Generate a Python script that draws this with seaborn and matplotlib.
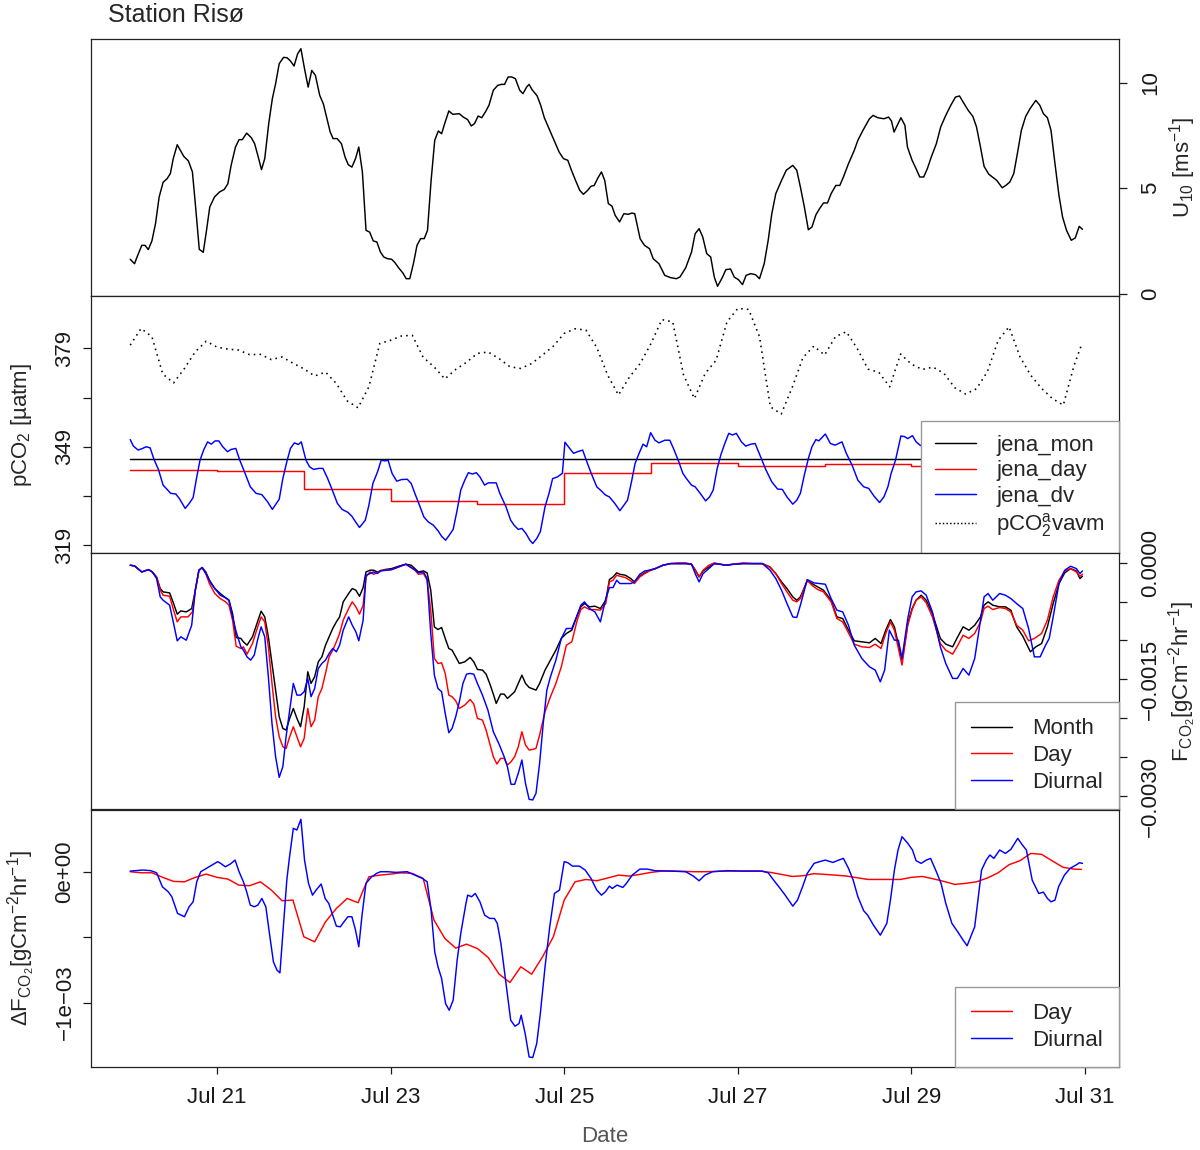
import numpy as np
import pandas as pd
import seaborn as sns
import matplotlib.pyplot as plt
import matplotlib.dates as mdates
from matplotlib.ticker import FixedLocator, FixedFormatter
from matplotlib.lines import Line2D

# hours after Jul 20 00:00, read every 3 hours
hours = list(range(0, 262, 3)) + [263]

# wind speed, read at the line's vertices: (hour, m/s)
u10_pts = [
    (0.0, 1.63), (1.2, 1.42), (1.9, 1.74), (3.2, 2.29), (4.1, 2.29), (5.0, 2.09), (6.0, 2.50), (7.0, 3.32),
    (8.0, 4.58), (9.1, 5.28), (10.2, 5.45), (11.1, 5.69), (11.9, 6.40), (13.0, 7.06), (14.0, 6.76),
    (14.8, 6.51), (16.1, 6.29), (17.2, 5.77), (18.0, 4.27), (19.1, 2.10), (20.2, 1.96), (21.1, 3.00),
    (22.0, 4.11), (23.3, 4.58), (24.7, 4.82), (26.0, 4.94), (27.0, 5.21), (27.9, 6.08), (29.1, 6.95),
    (30.1, 7.30), (31.0, 7.30), (32.2, 7.61), (33.5, 7.39), (34.4, 7.11), (35.4, 6.48), (36.3, 5.88),
    (37.2, 6.40), (38.3, 8.06), (39.3, 9.24), (40.2, 9.95), (41.2, 10.90), (42.4, 11.20), (43.4, 11.18),
    (44.3, 11.03), (45.3, 10.79), (46.3, 11.37), (47.2, 11.61), (48.2, 10.66), (49.2, 9.79), (50.2, 10.58),
    (51.2, 10.35), (52.4, 9.40), (53.4, 9.00), (54.3, 8.37), (55.3, 7.66), (56.1, 7.35), (57.2, 7.35),
    (58.4, 7.11), (59.4, 6.48), (60.3, 6.11), (61.3, 6.00), (62.3, 6.40), (63.2, 6.95), (64.2, 5.77),
    (65.2, 3.00), (66.2, 2.92), (67.2, 2.50), (68.2, 2.45), (69.2, 1.97), (70.1, 1.74), (71.1, 1.66),
    (72.3, 1.63), (73.2, 1.47), (74.2, 1.23), (75.4, 0.98), (76.3, 0.71), (77.3, 0.71), (78.3, 1.42),
    (79.3, 2.29), (80.3, 2.61), (81.3, 2.61), (82.2, 3.00), (83.2, 5.37), (84.2, 7.27), (85.2, 7.71),
    (86.1, 7.58), (87.1, 8.14), (88.1, 8.66), (89.2, 8.50), (91.0, 8.53), (92.1, 8.37), (93.3, 8.25),
    (94.3, 7.95), (95.2, 8.06), (96.2, 8.42), (97.2, 8.34), (98.2, 8.61), (99.2, 8.93), (100.4, 9.64),
    (101.6, 9.87), (102.6, 9.92), (103.5, 9.92), (104.5, 10.27), (105.5, 10.27), (106.5, 10.19),
    (107.7, 9.64), (108.6, 9.48), (109.6, 9.79), (110.3, 9.92), (111.1, 9.67), (112.5, 9.38), (113.5, 8.93),
    (114.5, 8.34), (115.4, 7.98), (116.4, 7.58), (117.4, 7.19), (118.6, 6.71), (119.8, 6.40), (121.0, 6.32),
    (122.0, 5.85), (123.2, 5.34), (124.3, 4.90), (125.3, 4.71), (126.5, 4.90), (127.4, 5.09), (128.3, 5.13),
    (129.3, 5.48), (130.3, 5.77), (131.2, 5.37), (132.2, 4.27), (133.2, 4.15), (134.1, 3.71), (135.3, 3.40),
    (136.5, 3.79), (137.7, 3.76), (138.7, 3.82), (139.5, 3.79), (141.0, 2.60), (142.2, 2.29), (143.6, 2.13),
    (144.6, 1.66), (146.2, 1.42), (147.8, 0.87), (149.4, 0.76), (151.0, 0.71), (152.0, 0.79), (153.6, 1.23),
    (155.2, 1.97), (156.2, 2.84), (157.3, 3.08), (158.3, 2.69), (159.4, 1.90), (160.5, 1.74), (161.5, 0.79),
    (162.4, 0.35), (163.7, 0.76), (164.7, 1.14), (166.0, 1.17), (167.0, 0.79), (168.2, 0.66), (169.3, 0.43),
    (170.3, 0.87), (171.6, 0.95), (172.9, 0.90), (174.0, 0.71), (175.3, 1.42), (176.4, 2.53), (177.4, 3.79),
    (178.5, 4.74), (180.1, 5.37), (181.4, 5.85), (183.2, 6.08), (184.3, 5.85), (185.3, 5.06), (186.4, 4.11),
    (187.5, 3.03), (188.5, 3.16), (189.6, 3.74), (190.6, 4.03), (191.7, 4.30), (192.8, 4.30), (193.8, 4.74),
    (195.1, 5.13), (196.2, 5.13), (197.2, 5.53), (198.6, 6.16), (200.2, 6.79), (201.2, 7.27), (202.6, 7.74),
    (204.4, 8.29), (205.4, 8.45), (206.7, 8.34), (208.4, 8.29), (209.7, 8.37), (210.5, 8.18), (211.2, 7.66),
    (212.3, 8.06), (213.1, 8.34), (214.2, 7.98), (214.9, 6.95), (216.2, 6.32), (217.3, 5.92), (218.3, 5.53),
    (219.4, 5.53), (220.4, 5.92), (221.5, 6.48), (222.9, 7.11), (224.1, 7.90), (225.5, 8.45), (226.9, 8.93),
    (228.2, 9.32), (229.3, 9.37), (230.3, 9.08), (231.7, 8.69), (233.0, 8.40), (234.0, 7.90), (235.1, 6.95),
    (236.1, 6.03), (237.4, 5.66), (238.6, 5.50), (239.6, 5.37), (241.1, 5.02), (242.1, 5.13), (243.2, 5.29),
    (244.3, 5.69), (245.3, 6.64), (246.4, 7.74), (247.6, 8.40), (248.8, 8.77), (250.4, 9.16), (251.5, 8.93),
    (252.5, 8.53), (253.6, 8.34), (254.6, 7.74), (255.7, 6.16), (256.8, 4.66), (257.8, 3.63), (258.9, 3.00),
    (260.2, 2.53), (261.3, 2.64), (262.4, 3.19), (263.3, 3.05)]

# atmospheric pCO2 (uatm), every 3 hours
pco2_air = [380.0, 385.1, 382.6, 371.2, 368.5, 372.9, 378.0, 381.2, 379.4, 378.8, 378.5, 377.1, 377.2,
            375.6, 376.4, 374.5, 372.8, 370.6, 371.8, 368.3, 363.0, 360.9, 367.3, 380.5, 381.5, 382.8,
            383.0, 376.3, 373.4, 369.7, 372.6, 374.8, 377.5, 377.9, 375.9, 373.4, 372.9, 374.4, 377.0,
            379.7, 383.6, 385.0, 384.6, 379.3,
            370.9, 364.8, 370.2, 374.4, 380.5, 387.8, 387.1, 370.9, 363.7, 371.4, 375.4, 387.1, 391.2,
            390.9, 382.6, 361.2, 359.0, 367.0, 376.2, 379.7, 377.0, 382.6, 384.1, 379.0, 372.7, 371.7,
            367.3, 377.3, 374.2, 372.6, 373.3, 371.4, 367.0, 365.1, 366.7, 371.9, 381.5, 385.6, 376.5,
            370.8, 366.8, 363.7, 361.7, 373.9, 380.0]

# diurnal pCO2 (hour, uatm); the rest is hidden behind the legend
jena_dv_pts = [
    (0.0, 351.2), (0.9, 349.2), (2.2, 348.0), (3.4, 348.5), (4.4, 349.0), (5.5, 348.7), (6.6, 345.1),
    (7.8, 342.1), (9.1, 337.3), (10.2, 336.0), (11.2, 334.8), (12.6, 334.6), (13.6, 333.2), (15.2, 330.2),
    (16.3, 331.7), (17.4, 333.5), (18.4, 339.8), (19.3, 344.9), (20.3, 348.0), (21.4, 350.5), (22.4, 349.8),
    (23.5, 350.8), (24.5, 350.8), (25.6, 349.0), (26.9, 347.5), (27.9, 348.2), (29.2, 348.5), (30.3, 344.9),
    (31.4, 341.9), (33.2, 336.8), (34.8, 334.8), (36.4, 334.4), (38.0, 332.2), (39.3, 329.9), (40.4, 331.7),
    (41.2, 333.0), (42.2, 339.3), (43.3, 344.4), (44.3, 348.5), (45.4, 350.2), (46.5, 349.7), (47.3, 350.5),
    (48.6, 344.9), (49.6, 342.9), (50.7, 342.1), (52.1, 342.4), (53.3, 342.4), (54.6, 339.3), (55.7, 336.3),
    (57.3, 331.7), (58.6, 329.9), (60.2, 329.0), (61.3, 327.8), (62.3, 326.1), (63.4, 324.4), (65.0, 326.6),
    (66.0, 331.2), (67.1, 337.8), (68.4, 341.4), (69.4, 344.9), (70.5, 344.7), (71.3, 344.9), (72.4, 340.9),
    (73.7, 338.5), (75.0, 339.0), (76.6, 339.1), (77.7, 337.8), (78.7, 334.8), (79.8, 331.7), (81.2, 327.6),
    (82.4, 326.1), (83.8, 325.1), (85.1, 323.4), (86.1, 321.7), (87.2, 320.5), (88.2, 322.0), (89.3, 323.8),
    (90.4, 329.7), (91.4, 335.8), (92.5, 338.8), (93.5, 341.1), (94.6, 340.7), (95.7, 341.1), (96.7, 339.8),
    (98.0, 337.3), (99.0, 338.0), (101.2, 338.0), (102.2, 334.8), (103.9, 330.7), (105.2, 326.6),
    (106.2, 325.0), (107.3, 323.8), (108.3, 324.1), (109.4, 322.6), (110.5, 320.5), (111.3, 319.5),
    (112.4, 321.0), (113.4, 323.1), (114.7, 330.7), (115.8, 334.8), (116.8, 339.3), (118.1, 339.8),
    (119.5, 340.9), (120.2, 350.4), (121.3, 348.8), (122.6, 347.0), (123.7, 347.5), (125.1, 348.0),
    (126.1, 344.9), (127.4, 341.1), (129.0, 336.8), (130.2, 335.6), (131.4, 334.3), (132.5, 333.7),
    (134.0, 331.7), (135.4, 329.5), (136.5, 331.2), (137.5, 332.7), (138.6, 338.3), (139.6, 343.9),
    (140.7, 347.0), (141.8, 349.8), (142.8, 349.0), (143.9, 353.3), (145.1, 351.0), (146.2, 350.2),
    (147.8, 351.0), (149.2, 351.0), (150.4, 348.0), (151.7, 344.4), (152.8, 340.9), (153.8, 339.3),
    (155.2, 337.3), (156.2, 336.8), (157.6, 334.8), (159.1, 332.5), (160.2, 333.7), (161.2, 335.8),
    (162.3, 342.4), (163.3, 346.5), (164.4, 350.0), (165.5, 353.1), (166.5, 352.6), (167.6, 353.1),
    (169.0, 350.5), (170.2, 349.2), (171.6, 349.8), (172.8, 350.0), (174.2, 346.2), (175.8, 341.9),
    (177.4, 338.3), (179.0, 336.1), (180.3, 336.0), (181.6, 333.7), (183.2, 331.5), (184.3, 332.7),
    (185.3, 334.8), (186.4, 340.4), (187.5, 345.4), (188.5, 349.0), (189.6, 351.2), (190.4, 350.8),
    (192.2, 352.9), (193.6, 350.0), (194.9, 349.5), (196.8, 350.5), (198.0, 347.0), (199.6, 343.4),
    (201.2, 338.8), (202.8, 336.8), (204.2, 336.3), (205.7, 333.9), (207.2, 332.0), (208.4, 333.7),
    (209.5, 336.8), (210.4, 340.9), (211.6, 344.9), (213.1, 352.3), (214.1, 352.1), (215.0, 351.5),
    (216.3, 352.4), (217.3, 350.5), (218.4, 349.5), (219.2, 349.0), (220.2, 349.5)]

# daily and monthly climatologies
day_hours = [0, 24, 48, 72, 96, 120, 144, 168, 192, 216, 240, 263]
jena_day = [341.9, 341.7, 336.2, 332.4, 331.4, 341.1, 344.2, 343.2, 343.7, 343.2, 343.2, 343.2]
mon_hours = [0, 263]
jena_mon = [345.2, 345.2]

# fluxes (hour, 1e-4 gC m-2 hr-1), read at the line vertices
flux_month_pts = [
    (0.0, -0.34), (1.2, -0.43), (3.2, -1.20), (5.1, -0.90), (6.1, -1.20), (7.3, -1.84), (8.3, -3.33),
    (9.1, -3.76), (10.9, -3.89), (12.0, -5.26), (13.0, -6.62), (14.0, -6.20), (15.5, -6.33), (17.0, -5.90),
    (18.0, -3.55), (19.0, -0.98), (19.9, -0.64), (20.9, -1.20), (21.9, -2.27), (23.4, -3.33), (24.9, -3.97),
    (26.4, -4.53), (27.3, -4.83), (28.3, -6.54), (29.3, -9.62), (30.6, -9.74), (31.3, -10.17),
    (32.3, -10.60), (33.8, -9.53), (35.2, -7.61), (36.2, -6.24), (37.2, -6.97), (38.2, -9.53),
    (39.2, -12.95), (40.2, -16.37), (41.2, -19.79), (42.2, -21.28), (43.1, -21.50), (44.1, -20.00),
    (45.1, -18.72), (46.1, -20.00), (47.1, -21.07), (48.1, -18.51), (49.1, -14.02), (50.0, -15.51),
    (51.0, -14.66), (52.0, -12.74), (53.0, -12.10), (54.0, -10.60), (55.0, -9.53), (56.0, -8.46),
    (57.0, -7.61), (57.9, -6.97), (58.9, -5.04), (60.4, -3.97), (61.4, -3.33), (62.4, -3.55), (63.4, -4.32),
    (64.4, -3.21), (65.2, -1.20), (66.3, -0.98), (67.3, -0.98), (68.3, -1.20), (69.3, -1.07), (70.3, -0.90),
    (72.3, -0.77), (74.2, -0.47), (76.2, -0.21), (77.7, -0.34), (78.7, -0.77), (79.7, -1.20), (81.1, -1.07),
    (82.1, -1.32), (83.1, -3.55), (84.1, -8.25), (85.1, -8.59), (86.1, -8.33), (87.1, -9.74), (88.1, -11.03),
    (89.0, -11.24), (90.0, -12.10), (91.0, -12.95), (92.5, -12.74), (94.0, -12.18), (95.0, -12.74),
    (96.0, -13.72), (97.4, -13.80), (98.4, -14.32), (99.4, -15.51), (100.4, -16.88), (101.2, -18.08),
    (102.4, -16.88), (103.4, -16.88), (104.3, -17.44), (105.3, -17.01), (106.3, -16.58), (107.3, -15.51),
    (108.3, -14.45), (109.3, -15.51), (110.3, -16.03), (112.2, -16.37), (113.2, -15.51), (114.7, -13.80),
    (116.2, -12.52), (117.7, -11.24), (119.2, -9.74), (120.6, -9.10), (122.1, -8.68), (123.6, -6.75),
    (124.6, -5.68), (125.6, -5.26), (127.0, -5.68), (128.5, -5.60), (130.0, -5.90), (131.5, -4.83),
    (132.5, -2.18), (133.5, -1.84), (134.5, -1.32), (135.4, -1.50), (136.9, -1.62), (138.4, -2.05),
    (139.4, -2.48), (140.9, -1.75), (142.3, -1.32), (143.6, -0.98), (145.2, -0.77), (147.3, -0.34),
    (149.4, -0.13), (151.5, -0.13), (153.6, -0.13), (155.2, -0.21), (156.3, -0.98), (157.3, -1.84),
    (158.4, -1.07), (160.0, -0.56), (161.5, -0.13), (163.1, -0.21), (164.7, -0.34), (166.8, -0.21),
    (169.5, -0.13), (172.1, -0.13), (174.8, -0.13), (176.9, -0.56), (178.5, -1.41), (180.1, -2.48),
    (181.6, -3.33), (183.2, -4.40), (184.3, -4.83), (185.3, -4.40), (187.2, -2.35), (188.5, -2.69),
    (190.1, -3.12), (191.7, -3.55), (193.8, -4.83), (195.4, -6.97), (197.0, -7.18), (198.6, -8.68),
    (200.2, -10.04), (202.3, -10.17), (204.4, -10.30), (206.0, -9.74), (207.6, -10.39), (208.9, -8.68),
    (210.2, -7.31), (211.3, -8.25), (213.4, -12.52), (215.0, -7.82), (216.2, -5.90), (217.3, -4.83),
    (218.7, -4.19), (220.1, -4.83), (221.8, -6.54), (224.0, -9.74), (225.5, -10.47), (227.4, -10.81),
    (228.7, -9.62), (230.3, -8.25), (231.9, -8.68), (233.5, -8.04), (235.1, -6.97), (236.1, -5.47),
    (237.2, -5.04), (238.5, -5.47), (240.4, -5.68), (242.0, -5.68), (243.5, -6.11), (245.1, -8.25),
    (246.8, -9.45), (248.9, -11.45), (250.4, -10.81), (252.0, -10.39), (253.6, -8.25), (255.2, -5.26),
    (256.8, -2.69), (258.4, -1.32), (260.0, -0.77), (261.6, -1.07), (262.6, -2.05), (263.3, -1.75)]

flux_day_pts = [
    (0.0, -0.34), (1.2, -0.43), (3.2, -1.20), (5.1, -0.90), (6.1, -1.20), (7.3, -1.92), (8.3, -3.55),
    (9.1, -4.19), (10.9, -4.32), (12.0, -6.11), (13.0, -7.61), (14.0, -6.97), (16.0, -6.97), (17.2, -6.33),
    (18.0, -3.55), (19.0, -0.98), (19.9, -0.64), (20.9, -1.41), (21.9, -2.69), (23.4, -3.97), (24.9, -4.62),
    (26.4, -5.04), (27.3, -5.47), (28.3, -7.39), (29.3, -10.73), (30.6, -11.03), (31.3, -10.81),
    (32.3, -11.75), (33.8, -10.39), (35.2, -8.33), (36.2, -6.97), (37.2, -7.61), (38.2, -10.81),
    (39.2, -15.51), (40.2, -19.79), (41.2, -22.35), (42.2, -23.64), (43.1, -23.85), (44.1, -22.35),
    (45.1, -21.07), (46.1, -22.35), (47.1, -23.64), (48.1, -22.57), (49.1, -18.72), (50.0, -21.07),
    (51.0, -20.22), (52.0, -17.22), (53.0, -16.16), (54.0, -14.23), (55.0, -12.10), (56.0, -11.24),
    (57.0, -10.17), (57.9, -9.10), (58.9, -7.39), (60.4, -5.90), (61.4, -5.04), (62.4, -5.68), (63.4, -6.62),
    (64.4, -5.47), (65.2, -1.84), (66.3, -1.20), (67.3, -1.50), (68.3, -1.32), (69.3, -0.98), (72.3, -0.90),
    (76.2, -0.21), (78.7, -0.98), (79.7, -1.50), (81.1, -1.41), (82.1, -2.27), (83.1, -6.11), (84.1, -12.31),
    (85.1, -12.95), (86.1, -12.86), (87.1, -14.23), (88.1, -17.01), (89.0, -17.22), (90.0, -17.74),
    (91.0, -18.72), (92.5, -18.29), (94.0, -17.57), (95.0, -18.16), (96.0, -20.00), (97.4, -20.22),
    (98.4, -21.50), (99.4, -23.21), (100.4, -24.92), (101.4, -25.86), (102.4, -25.13), (103.4, -25.13),
    (104.3, -25.99), (105.3, -25.56), (106.3, -24.92), (107.3, -23.64), (108.3, -21.71), (109.3, -23.42),
    (110.3, -24.06), (111.3, -23.98), (112.2, -23.85), (113.2, -22.14), (114.7, -19.15), (116.2, -17.22),
    (117.7, -15.51), (119.2, -13.38), (120.6, -10.60), (122.1, -10.17), (123.6, -7.39), (124.6, -6.03),
    (125.6, -5.68), (127.0, -6.03), (128.5, -6.03), (130.0, -6.11), (131.5, -5.26), (132.5, -2.48),
    (133.5, -2.27), (134.5, -1.62), (135.4, -1.75), (136.9, -1.92), (138.4, -2.35), (139.4, -2.69),
    (140.9, -1.84), (142.3, -1.41), (143.6, -1.07), (145.2, -0.77), (147.3, -0.34), (149.4, -0.13),
    (151.5, -0.04), (153.6, -0.04), (155.2, -0.21), (156.3, -1.07), (157.3, -1.84), (158.4, -0.98),
    (160.0, -0.34), (161.5, -0.04), (163.1, -0.21), (164.7, -0.34), (166.8, -0.21), (169.5, -0.04),
    (172.1, -0.13), (174.8, -0.13), (176.9, -0.64), (178.5, -1.41), (180.1, -2.69), (181.6, -3.76),
    (183.2, -4.83), (184.3, -5.04), (185.3, -4.62), (187.2, -2.27), (188.5, -2.91), (190.1, -3.46),
    (191.7, -3.76), (193.8, -5.04), (195.4, -7.18), (197.0, -7.61), (198.6, -9.02), (200.2, -10.47),
    (202.3, -10.81), (204.4, -10.90), (206.0, -10.47), (207.6, -11.03), (208.9, -9.10), (210.2, -7.61),
    (211.3, -8.68), (213.4, -13.16), (215.0, -8.04), (216.2, -6.03), (217.3, -4.83), (218.7, -4.40),
    (220.1, -5.17), (221.8, -6.97), (224.0, -10.39), (225.5, -11.24), (227.4, -11.75), (228.7, -10.73),
    (230.3, -9.32), (231.9, -9.74), (233.5, -9.10), (235.1, -7.61), (236.1, -5.90), (237.2, -5.60),
    (238.5, -6.03), (240.4, -5.77), (242.0, -5.90), (243.5, -6.33), (245.1, -8.04), (246.8, -8.68),
    (248.4, -10.04), (250.0, -9.74), (252.0, -9.10), (253.6, -7.39), (255.2, -4.40), (256.8, -2.27),
    (258.4, -1.07), (260.0, -0.77), (261.6, -1.20), (262.6, -1.75), (263.3, -1.50)]

flux_diurnal_pts = [
    (0.0, -0.34), (1.2, -0.43), (3.2, -1.20), (5.1, -0.90), (6.1, -1.20), (7.3, -2.05), (8.3, -4.40),
    (9.1, -4.83), (10.9, -5.47), (12.0, -7.82), (13.0, -10.04), (14.0, -9.53), (15.5, -9.96), (17.0, -8.04),
    (18.0, -3.55), (19.0, -0.98), (19.9, -0.64), (20.9, -1.41), (22.4, -2.69), (23.4, -3.33), (24.9, -4.19),
    (26.4, -4.53), (27.3, -4.83), (28.3, -6.97), (29.3, -8.89), (30.6, -10.81), (31.3, -11.24),
    (32.3, -12.10), (33.3, -12.52), (34.3, -11.88), (35.2, -9.96), (36.2, -8.25), (37.2, -9.53),
    (38.2, -14.66), (39.2, -20.64), (40.2, -24.92), (41.2, -27.57), (42.2, -26.20), (43.1, -22.35),
    (44.1, -18.93), (45.1, -15.51), (46.1, -17.01), (47.1, -17.01), (48.1, -16.58), (49.1, -14.87),
    (50.0, -17.22), (51.0, -16.16), (52.0, -13.59), (53.0, -12.95), (54.0, -12.52), (55.0, -11.67),
    (56.0, -11.03), (57.0, -11.45), (57.9, -10.60), (58.9, -8.68), (60.4, -6.97), (61.4, -8.04),
    (62.4, -8.89), (63.2, -10.04), (64.4, -7.39), (65.2, -1.62), (66.3, -1.41), (67.3, -1.20), (68.3, -1.41),
    (69.3, -1.07), (72.3, -0.90), (76.2, -0.21), (78.7, -0.90), (79.7, -1.32), (81.1, -1.20), (82.1, -2.05),
    (83.1, -9.10), (84.1, -14.45), (85.1, -16.16), (86.1, -16.58), (87.1, -19.36), (88.1, -21.84),
    (89.0, -21.28), (90.0, -19.79), (91.0, -17.87), (92.0, -15.51), (93.0, -14.32), (94.0, -14.23),
    (95.0, -14.32), (96.0, -15.51), (97.4, -17.01), (98.9, -18.93), (100.4, -21.71), (101.9, -23.21),
    (103.4, -24.92), (104.3, -26.20), (105.3, -28.46), (106.3, -28.46), (107.3, -27.05), (108.3, -25.34),
    (109.3, -28.34), (110.3, -30.39), (111.3, -30.47), (112.2, -29.62), (113.2, -25.77), (114.2, -20.64),
    (115.2, -16.37), (116.2, -14.66), (117.7, -12.52), (119.2, -9.74), (120.6, -8.46), (122.1, -8.46),
    (123.6, -6.75), (124.6, -5.47), (125.6, -5.04), (127.0, -5.90), (128.5, -6.33), (130.0, -7.61),
    (131.5, -4.62), (132.5, -3.21), (133.5, -3.21), (134.5, -2.27), (135.4, -2.69), (136.9, -2.69),
    (138.4, -2.69), (139.4, -2.48), (140.9, -1.50), (142.3, -1.07), (143.6, -0.98), (145.2, -0.77),
    (147.3, -0.34), (149.4, -0.13), (151.5, -0.13), (153.6, -0.13), (155.2, -0.21), (156.3, -1.50),
    (157.3, -2.48), (158.4, -1.41), (160.0, -0.77), (161.5, -0.13), (163.1, -0.21), (164.7, -0.34),
    (166.8, -0.21), (169.5, -0.13), (172.1, -0.13), (174.8, -0.13), (176.9, -0.98), (178.5, -2.05),
    (180.1, -3.55), (181.6, -5.26), (183.2, -6.97), (184.3, -7.05), (185.3, -5.47), (187.2, -2.18),
    (189.1, -2.61), (190.6, -2.69), (192.2, -2.78), (193.8, -4.62), (195.4, -6.11), (197.0, -6.33),
    (198.6, -8.04), (200.2, -10.60), (202.3, -12.31), (204.4, -13.38), (206.0, -13.80), (207.4, -15.30),
    (208.6, -13.80), (209.9, -8.68), (211.3, -9.96), (212.4, -9.96), (213.4, -12.31), (215.0, -7.18),
    (216.2, -4.40), (217.3, -3.76), (218.7, -3.63), (220.1, -4.19), (221.8, -6.33), (224.0, -10.81),
    (225.5, -12.95), (227.4, -14.87), (228.7, -14.87), (230.3, -13.59), (231.9, -14.45), (233.5, -12.31),
    (235.1, -7.39), (236.1, -4.40), (237.2, -3.97), (238.5, -4.83), (240.4, -3.97), (242.0, -4.19),
    (243.5, -4.62), (245.1, -5.26), (246.8, -5.90), (248.4, -8.46), (250.0, -12.10), (251.6, -12.10),
    (253.1, -10.60), (254.1, -9.74), (255.2, -6.97), (256.8, -2.69), (258.4, -0.98), (260.0, -0.47),
    (261.6, -0.77), (262.6, -1.41), (263.3, -1.07)]

# day minus monthly flux (1e-4 gC m-2 hr-1), every 3 hours
dflux_day = [0.00, -0.08, -0.08, -0.43, -0.74, -0.77, -0.43, -0.18, -0.43, -0.56, -1.02, -1.07, -0.77,
             -1.40, -2.22, -2.17, -4.97, -5.36, -3.83, -2.81, -2.04, -2.37, -0.38, -0.26, -0.18, -0.08,
             -0.13, -0.51, -3.70, -5.10, -5.84, -5.54, -5.87, -6.56, -7.83, -8.47, -7.27, -7.83, -6.51,
             -4.97, -2.17, -0.77, -0.59, -0.69,
             -0.48, -0.26, -0.33, -0.20, -0.05, 0.05, 0.05, 0.03, 0.00, 0.00, 0.03, 0.05, 0.05, 0.05,
             0.05, -0.05, -0.20, -0.36, -0.31, -0.15, -0.20, -0.26, -0.33, -0.46, -0.59, -0.59, -0.59,
             -0.59, -0.43, -0.36, -0.54, -0.74, -0.97, -0.89, -0.77, -0.48, -0.08, 0.54, 0.84, 1.40,
             1.33, 0.82, 0.33, 0.20, 0.18]

# diurnal minus monthly flux (hour, 1e-4 gC m-2 hr-1)
dflux_diurnal_pts = [
    (0.0, 0.05), (1.5, 0.08), (3.6, 0.13), (5.7, 0.08), (7.3, -0.08), (8.9, -1.15), (10.5, -1.53),
    (11.5, -1.91), (13.1, -3.19), (15.0, -3.44), (16.3, -2.68), (17.4, -2.30), (18.4, -0.77), (19.5, 0.00),
    (21.1, 0.26), (22.6, 0.51), (24.2, 0.77), (25.0, 0.64), (26.3, 0.38), (27.7, 0.59), (29.0, 0.89),
    (30.1, 0.00), (31.3, -0.77), (32.2, -1.53), (33.2, -2.55), (34.3, -2.68), (35.3, -2.55), (36.4, -2.04),
    (37.5, -2.68), (38.5, -4.72), (39.6, -6.89), (40.6, -7.53), (41.4, -7.73), (42.2, -4.72), (43.3, -0.64),
    (44.0, 1.02), (45.1, 3.32), (46.1, 3.19), (47.2, 4.01), (48.2, 0.89), (49.3, -0.89), (50.4, -1.79),
    (51.4, -1.40), (52.8, -0.94), (53.9, -2.04), (54.9, -2.42), (56.0, -3.32), (57.0, -4.16), (58.1, -4.21),
    (59.1, -3.83), (60.2, -3.44), (61.3, -3.44), (62.3, -4.46), (63.2, -5.74), (64.1, -3.32), (65.2, -0.89),
    (66.6, -0.43), (68.1, -0.13), (69.2, 0.00), (71.3, 0.00), (73.4, -0.05), (76.6, 0.00), (78.7, -0.26),
    (80.8, -0.51), (82.1, -0.77), (83.2, -2.93), (84.2, -6.12), (85.1, -7.27), (86.1, -8.16), (87.2, -10.08),
    (88.2, -10.59), (89.3, -9.82), (90.4, -6.76), (91.4, -4.72), (92.7, -2.63), (93.3, -1.79), (94.4, -1.91),
    (95.4, -1.66), (96.7, -2.30), (98.0, -3.32), (99.4, -3.57), (100.7, -3.57), (101.5, -3.95),
    (102.5, -5.48), (103.9, -8.55), (105.2, -11.35), (106.4, -11.81), (107.5, -11.61), (108.1, -10.97),
    (109.2, -12.37), (110.3, -14.16), (111.3, -14.21), (112.4, -13.14), (113.4, -10.84), (114.7, -7.27),
    (116.0, -4.21), (117.3, -1.66), (118.7, -1.40), (120.0, 0.77), (121.0, 0.69), (122.3, 0.43),
    (124.2, 0.43), (125.8, 0.13), (127.4, -0.51), (129.0, -1.40), (130.3, -1.79), (131.4, -1.53),
    (132.5, -1.10), (133.3, -1.28), (134.6, -1.02), (136.2, -1.20), (137.2, -0.89), (138.8, -0.26),
    (140.9, 0.20), (143.0, 0.20), (145.1, 0.08), (149.4, 0.05), (153.6, 0.00), (155.7, -0.33),
    (157.3, -0.69), (158.9, -0.26), (161.0, 0.00), (165.2, 0.08), (169.5, 0.05), (174.8, 0.05),
    (176.4, -0.08), (177.9, -0.64), (179.5, -1.20), (181.1, -1.79), (183.2, -2.63), (184.5, -2.17),
    (185.9, -1.15), (187.2, -0.13), (189.1, 0.64), (190.6, 0.77), (192.2, 0.89), (194.3, 0.71),
    (195.9, 0.89), (197.2, 1.02), (198.6, 0.26), (199.9, -0.64), (201.2, -1.91), (202.8, -2.98),
    (203.9, -3.32), (205.5, -4.08), (207.4, -4.85), (209.2, -3.95), (210.2, -2.17), (211.3, 0.13),
    (212.3, 1.66), (213.4, 2.68), (215.0, 2.17), (216.3, 1.66), (217.3, 0.84), (218.7, 0.64), (220.1, 0.89),
    (221.3, 1.02), (222.9, 0.00), (224.2, -0.89), (225.5, -2.42), (227.2, -3.95), (228.8, -4.59),
    (230.3, -5.23), (231.4, -5.66), (232.4, -4.97), (233.5, -4.21), (234.6, -1.66), (235.4, 0.13),
    (236.7, 0.89), (237.7, 1.28), (238.8, 1.02), (240.4, 1.66), (242.0, 1.40), (243.5, 1.71), (245.4, 2.55),
    (246.7, 2.04), (247.8, 1.66), (249.4, -0.64), (251.2, -1.66), (252.5, -1.56), (253.6, -2.04),
    (254.6, -2.30), (255.7, -2.17), (256.7, -1.15), (258.3, -0.26), (259.9, 0.26), (261.5, 0.51),
    (262.5, 0.69), (263.3, 0.64)]

start = pd.Timestamp('2010-07-20')


def to_time(h):
    return start + pd.to_timedelta(list(h), unit='h')


def pts_frame(pts, name, scale=1.0):
    h, v = zip(*pts)
    return pd.DataFrame({'time': to_time(h), name: np.array(v) * scale})


df = pd.DataFrame({
    'time': to_time(hours),
    'pco2_air': pco2_air,
    'dflux_day': np.array(dflux_day) * 1e-4,
})
df_u10 = pts_frame(u10_pts, 'u10')
df_dv = pts_frame(jena_dv_pts, 'jena_dv')
df_fm = pts_frame(flux_month_pts, 'flux', 1e-4)
df_fd = pts_frame(flux_day_pts, 'flux', 1e-4)
df_fdv = pts_frame(flux_diurnal_pts, 'flux', 1e-4)
df_ddv = pts_frame(dflux_diurnal_pts, 'dflux_diurnal', 1e-4)
df_day = pd.DataFrame({'time': to_time(day_hours), 'jena_day': jena_day})
df_mon = pd.DataFrame({'time': to_time(mon_hours), 'jena_mon': jena_mon})

sns.set_theme(style='ticks')
plt.rcParams['font.family'] = ['Liberation Sans', 'DejaVu Sans']
plt.rcParams['mathtext.fontset'] = 'custom'
plt.rcParams['mathtext.rm'] = 'Liberation Sans'
plt.rcParams['mathtext.it'] = 'Liberation Sans:italic'
plt.rcParams['mathtext.default'] = 'regular'

FS = 16
LW = 1.05
fig = plt.figure(figsize=(12, 11.5), dpi=100)
rows = [(39, 296), (296, 553), (553, 809), (810, 1067)]
axes = []
for top, bot in rows:
    ax = fig.add_axes([91 / 1200, 1 - bot / 1150, 1028 / 1200, (bot - top) / 1150],
                      sharex=axes[0] if axes else None)
    for s in ax.spines.values():
        s.set_visible(True)
        s.set_color('#222222')
        s.set_linewidth(0.9)
    ax.tick_params(axis='x', bottom=False, labelbottom=False)
    axes.append(ax)
ax1, ax2, ax3, ax4 = axes

# panel 1: wind speed
sns.lineplot(data=df_u10, x='time', y='u10', ax=ax1, color='black', lw=LW, sort=False)
ax1.set_ylim(-0.11, 12.07)

# panel 2: pCO2
sns.lineplot(data=df_mon, x='time', y='jena_mon', ax=ax2, color='black', lw=LW)
sns.lineplot(data=df_day, x='time', y='jena_day', ax=ax2, color='#ff0000', lw=LW, drawstyle='steps-post')
sns.lineplot(data=df_dv, x='time', y='jena_dv', ax=ax2, color='#0000ff', lw=LW, sort=False)
sns.lineplot(data=df, x='time', y='pco2_air', ax=ax2, color='black', lw=1.15, linestyle=(0, (1, 2.6)))
ax2.set_ylim(316.6, 395.0)

# panel 3: flux
sns.lineplot(data=df_fm, x='time', y='flux', ax=ax3, color='black', lw=LW, sort=False)
sns.lineplot(data=df_fd, x='time', y='flux', ax=ax3, color='#ff0000', lw=LW, sort=False)
sns.lineplot(data=df_fdv, x='time', y='flux', ax=ax3, color='#0000ff', lw=LW, sort=False)
ax3.set_ylim(-0.003163, 0.000123)

# panel 4: flux differences
sns.lineplot(data=df, x='time', y='dflux_day', ax=ax4, color='#ff0000', lw=LW)
sns.lineplot(data=df_ddv, x='time', y='dflux_diurnal', ax=ax4, color='#0000ff', lw=LW, sort=False)
ax4.set_ylim(-0.001493, 0.000472)

# y axes
yaxes = [
    (ax1, 'right', [0, 5, 10], ['0', '5', '10'], r'U$_{10}$ [ms$^{-1}$]'),
    (ax2, 'left', [319, 334, 349, 364, 379], ['319', '', '349', '', '379'], r'pCO$_2$ [µatm]'),
    (ax3, 'right', [0, -0.0005, -0.001, -0.0015, -0.002, -0.0025, -0.003],
     ['0.0000', '', '', '\u22120.0015', '', '', '\u22120.0030'],
     r'F$_{CO_2}$[gCm$^{-2}$hr$^{-1}$]'),
    (ax4, 'left', [0, -0.0005, -0.001], ['0e+00', '', '\u22121e\u221203'],
     r'$\Delta$F$_{CO_2}$[gCm$^{-2}$hr$^{-1}$]'),
]
for ax, side, ticks, labels, title in yaxes:
    ax.yaxis.set_major_locator(FixedLocator(ticks))
    ax.yaxis.set_major_formatter(FixedFormatter(labels))
    if side == 'right':
        ax.yaxis.tick_right()
        ax.yaxis.set_label_position('right')
        ax.tick_params(axis='y', length=6, width=0.9, pad=9.0, labelsize=FS, labelrotation=90,
                       colors='#1a1a1a')
        plt.setp(ax.get_yticklabels(), va='center', ha='left')
        ax.set_ylabel(title, fontsize=FS, rotation=90, va='center', ha='center')
        ax.yaxis.set_label_coords((1183 - 91) / 1028, 0.5)
    else:
        ax.tick_params(axis='y', length=6, width=0.9, pad=5.2, labelsize=FS, labelrotation=90,
                       colors='#1a1a1a')
        plt.setp(ax.get_yticklabels(), va='center', ha='right')
        ax.set_ylabel(title, fontsize=FS, rotation=90, va='center', ha='center')
        ax.yaxis.set_label_coords((22 - 91) / 1028, 0.5)

# x axis on the bottom panel only
ax4.set_xlim(start - pd.Timedelta(hours=10.84), start + pd.Timedelta(hours=273.4))
ax4.xaxis.set_major_locator(mdates.DayLocator(bymonthday=[21, 23, 25, 27, 29, 31]))
ax4.xaxis.set_major_formatter(mdates.DateFormatter('%b %d'))
ax4.tick_params(axis='x', bottom=True, labelbottom=True, length=5.3, width=0.9, pad=9,
                labelsize=FS, colors='#1a1a1a')
for ax in axes:
    ax.set_xlabel('')
fig.text(605 / 1200, 1 - 1136 / 1150, 'Date', fontsize=FS, color='#555555', ha='center', va='center')

# legends
leg_kw = dict(loc='lower right', borderaxespad=0, frameon=True, fancybox=False, framealpha=1,
              edgecolor='#999999', fontsize=FS, handlelength=1.85, handletextpad=0.9,
              labelspacing=0.26, borderpad=0.72)


def handle(color, ls='-'):
    return Line2D([], [], color=color, lw=LW, linestyle=ls)


leg = ax2.legend([handle('black'), handle('#ff0000'), handle('#0000ff'), handle('black', (0, (1, 1.5)))],
                 ['jena_mon', 'jena_day', 'jena_dv', r'pCO$_2^a$vavm'],
                 **{**leg_kw, 'labelspacing': 0.2, 'borderpad': 0.62})
leg.get_frame().set_linewidth(1.0)
leg = ax3.legend([handle('black'), handle('#ff0000'), handle('#0000ff')],
                 ['Month', 'Day', 'Diurnal'], **leg_kw)
leg.get_frame().set_linewidth(1.0)
leg = ax4.legend([handle('#ff0000'), handle('#0000ff')], ['Day', 'Diurnal'], **leg_kw)
leg.get_frame().set_linewidth(1.0)

fig.text(108 / 1200, 1 - 15 / 1150, 'Station Risø', fontsize=18, ha='left', va='center')

fig.savefig('out.png', dpi=100)
